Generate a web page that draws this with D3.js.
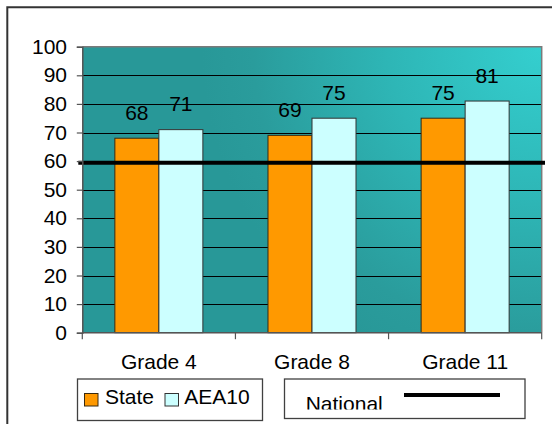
<!DOCTYPE html>
<html>
<head>
<meta charset="utf-8">
<script src="https://cdn.jsdelivr.net/npm/d3@7/dist/d3.min.js"></script>
<style>
  html, body { margin: 0; padding: 0; background: #ffffff; }
  svg { display: block; }
  text { font-family: Arial, "Liberation Sans", sans-serif; fill: #000; }
</style>
</head>
<body>
<svg id="chart" width="552" height="424"></svg>
<script>
// Reading proficiency by grade: state vs. AEA 10, with the national reference line
const categories = ["Grade 4", "Grade 8", "Grade 11"];
const seriesNames = ["State", "AEA10"];
const stateValues = [68, 69, 75];
const aeaValues = [71, 75, 81];
const nationalValue = 59.4;
const yTicks = [0, 10, 20, 30, 40, 50, 60, 70, 80, 90, 100];
const legendNational = "National";

const colors = { State: "#FF9900", AEA10: "#CCFFFF" };

const svg = d3.select("#chart");
const plot = { left: 82.3, right: 541.7, top: 46.7, bottom: 332.7 };
const fontSize = 21;

const x = d3.scaleBand().domain(categories).range([plot.left, plot.right]).padding(0);
const xSub = d3.scaleBand().domain(seriesNames).range([0, x.bandwidth()])
  .paddingInner(0).paddingOuter(0.74);
const y = d3.scaleLinear().domain([0, 100]).range([plot.bottom, plot.top]);

// Outer chart frame (runs off the right and bottom edges)
svg.append("path")
  .attr("d", `M7.3,${424 + 5} L7.3,7.3 L${552 + 5},7.3`)
  .attr("fill", "none").attr("stroke", "#333").attr("stroke-width", 2);

// Plot background: light corner at top-right fading to dark teal
const defs = svg.append("defs");
const grad = defs.append("radialGradient").attr("id", "bg")
  .attr("gradientUnits", "userSpaceOnUse")
  .attr("cx", plot.right).attr("cy", plot.top).attr("r", 340);
grad.append("stop").attr("offset", "0%").attr("stop-color", "#34CFCF");
grad.append("stop").attr("offset", "45%").attr("stop-color", "#2EB6B6");
grad.append("stop").attr("offset", "85%").attr("stop-color", "#2A9C9C");
grad.append("stop").attr("offset", "100%").attr("stop-color", "#289898");

svg.append("rect")
  .attr("x", plot.left).attr("y", plot.top)
  .attr("width", plot.right - plot.left).attr("height", plot.bottom - plot.top)
  .attr("fill", "url(#bg)");

// Gridlines
svg.append("g").selectAll("line").data(yTicks.filter(t => t > 0 && t < 100)).join("line")
  .attr("x1", plot.left).attr("x2", plot.right)
  .attr("y1", d => Math.round(y(d)) + 0.5).attr("y2", d => Math.round(y(d)) + 0.5)
  .attr("stroke", "#000").attr("stroke-width", 1);

// Plot border (top and right)
svg.append("path")
  .attr("d", `M${plot.left},${plot.top} L${plot.right},${plot.top} L${plot.right},${plot.bottom}`)
  .attr("fill", "none").attr("stroke", "#7a7a7a").attr("stroke-width", 1.5);

// Bars
const rows = categories.map((c, i) => ({ category: c, values: [
  { key: "State", value: stateValues[i] },
  { key: "AEA10", value: aeaValues[i] }
]}));

const groups = svg.append("g").selectAll("g").data(rows).join("g")
  .attr("transform", d => `translate(${x(d.category)},0)`);

groups.selectAll("rect").data(d => d.values).join("rect")
  .attr("x", d => xSub(d.key))
  .attr("y", d => y(d.value))
  .attr("width", xSub.bandwidth())
  .attr("height", d => y(0) - y(d.value))
  .attr("fill", d => colors[d.key])
  .attr("stroke", d => d.key === "State" ? "#3a2a10" : "#333")
  .attr("stroke-width", 1);

// Data labels
groups.selectAll("text").data(d => d.values).join("text")
  .attr("x", d => xSub(d.key) + xSub.bandwidth() / 2)
  .attr("y", d => y(d.value) - 18.5)
  .attr("text-anchor", "middle")
  .attr("font-size", fontSize)
  .text(d => d.value);

// National reference line
svg.append("line")
  .attr("x1", plot.left - 4).attr("x2", 545)
  .attr("y1", y(nationalValue)).attr("y2", y(nationalValue))
  .attr("stroke", "#000").attr("stroke-width", 4);

// Y axis
const yAxis = svg.append("g")
  .attr("transform", `translate(${plot.left},0)`)
  .call(d3.axisLeft(y).tickValues(yTicks).tickSize(5.5).tickPadding(10).tickFormat(d3.format("d")));
yAxis.select(".domain").attr("stroke", "#555").attr("stroke-width", 1.5);
yAxis.selectAll(".tick line").attr("stroke", "#555").attr("stroke-width", 1.2);
yAxis.selectAll(".tick text")
  .attr("font-size", fontSize).attr("font-family", "Arial, 'Liberation Sans', sans-serif")
  .attr("fill", "#000").attr("dy", "6.5px").attr("x", -15.3);

// X axis with ticks at category boundaries
const xAxisG = svg.append("g");
xAxisG.append("line")
  .attr("x1", plot.left).attr("x2", plot.right)
  .attr("y1", plot.bottom).attr("y2", plot.bottom)
  .attr("stroke", "#555").attr("stroke-width", 1.5);
const boundaries = categories.map(c => x(c)).concat([x(categories[categories.length - 1]) + x.bandwidth()]);
xAxisG.selectAll("line.tick").data(boundaries).join("line").attr("class", "tick")
  .attr("x1", d => d).attr("x2", d => d)
  .attr("y1", plot.bottom).attr("y2", plot.bottom + 6.5)
  .attr("stroke", "#555").attr("stroke-width", 1.2);
xAxisG.selectAll("text").data(categories).join("text")
  .attr("x", d => x(d) + x.bandwidth() / 2)
  .attr("y", 368.5)
  .attr("text-anchor", "middle")
  .attr("font-size", fontSize)
  .text(d => d);

// Legend: bar series
const leg1 = svg.append("g");
leg1.append("rect").attr("x", 77.5).attr("y", 379).attr("width", 185).attr("height", 41.5)
  .attr("fill", "#fff").attr("stroke", "#404040").attr("stroke-width", 1.3);
const legItems = [
  { key: "State", sx: 84.5, tx: 105 },
  { key: "AEA10", sx: 165, tx: 184.3 }
];
legItems.forEach(item => {
  leg1.append("rect").attr("x", item.sx).attr("y", 393.5).attr("width", 13.5).attr("height", 12.5)
    .attr("fill", colors[item.key]).attr("stroke", item.key === "State" ? "#3a2a10" : "#333").attr("stroke-width", 1);
  leg1.append("text").attr("x", item.tx).attr("y", 404.3).attr("font-size", fontSize).text(item.key);
});

// Legend: national line (text clipped at its lower edge)
const leg2 = svg.append("g");
leg2.append("rect").attr("x", 284.5).attr("y", 379).attr("width", 240.5).attr("height", 39.5)
  .attr("fill", "#fff").attr("stroke", "#404040").attr("stroke-width", 1.3);
defs.append("clipPath").attr("id", "natClip")
  .append("rect").attr("x", 285).attr("y", 380).attr("width", 240).attr("height", 29.5);
leg2.append("text").attr("x", 305.7).attr("y", 410.5).attr("font-size", fontSize)
  .attr("clip-path", "url(#natClip)").text(legendNational);
leg2.append("line").attr("x1", 404).attr("x2", 500).attr("y1", 395).attr("y2", 395)
  .attr("stroke", "#000").attr("stroke-width", 4);
</script>
</body>
</html>
